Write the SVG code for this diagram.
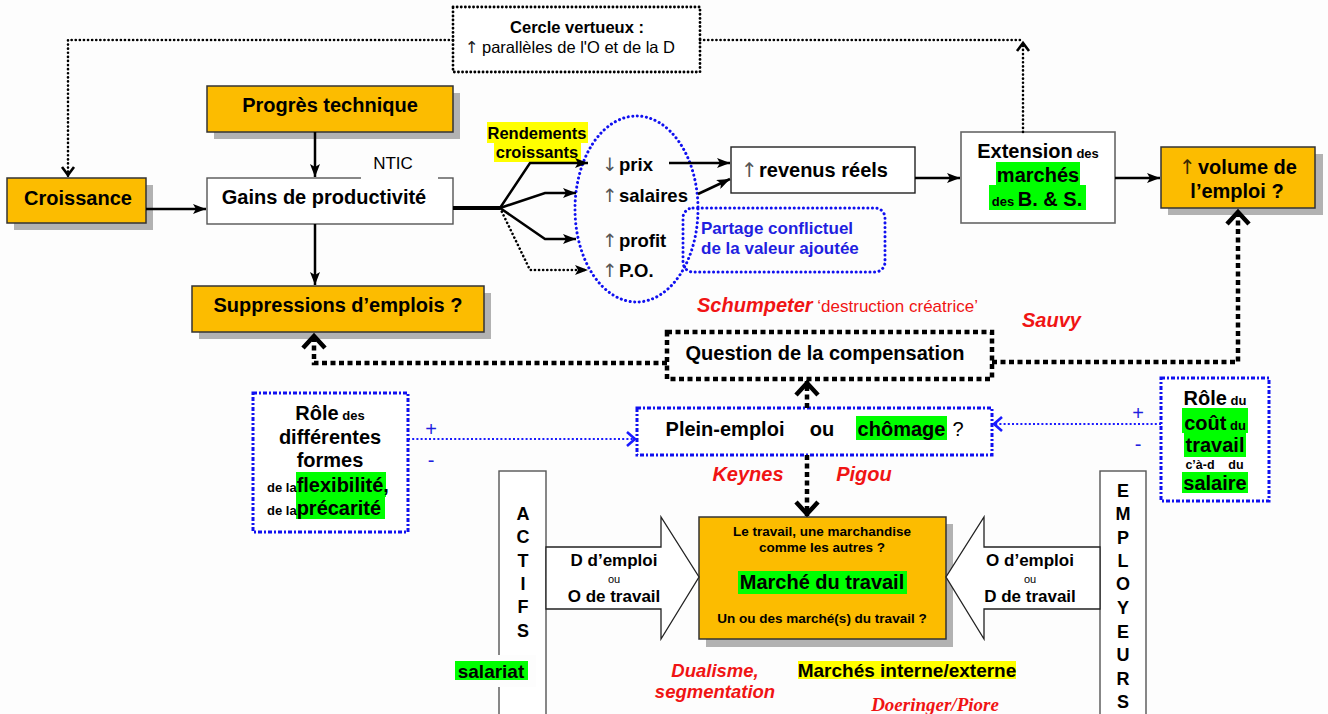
<svg xmlns="http://www.w3.org/2000/svg" width="1328" height="714" viewBox="0 0 1328 714">
<style>
text { font-family: "Liberation Sans", Arial, Helvetica, sans-serif; fill: #000; }
.b { font-weight: bold; }
.c { text-anchor: middle; }
.f20 { font-size: 20px; }
.red { fill: #f01414; font-weight: bold; font-style: italic; }
.blue { fill: #1f1fe0; }
.orange { fill: #fcbc00; stroke: #333; stroke-width: 1.5; }
.shadow { fill: #b2b2b2; }
.white { fill: #fff; stroke: #555; stroke-width: 1.4; }
.hg { fill: #00ff00; }
.hy { fill: #ffff00; }
.ar { fill: #555; font-weight: normal; font-family: "DejaVu Sans", "Noto Sans", sans-serif; }
.solid { fill: none; stroke: #000; stroke-width: 2.5; }
.dot { fill: none; stroke: #000; stroke-width: 2.6; stroke-dasharray: 0.1 4; stroke-linecap: round; }
.dash { fill: none; stroke: #000; stroke-width: 4.5; stroke-dasharray: 5 3.5; }
.bdot { fill: none; stroke: #1a1aff; stroke-width: 2.2; stroke-dasharray: 2 2.2; }
.bbox { fill: #fff; stroke: #1010f0; stroke-width: 3; stroke-dasharray: 4 2 2 2; }
.bround { fill: none; stroke: #1010f0; stroke-width: 3; stroke-dasharray: 0.1 4.5; stroke-linecap: round; }
</style>
<defs>
<marker id="stealth" markerUnits="userSpaceOnUse" markerWidth="13" markerHeight="10" viewBox="0 0 13 10" refX="13" refY="5" orient="auto"><path d="M0,0 L13,5 L0,10 L3,5 z" fill="#000"/></marker>
<marker id="chev" markerUnits="userSpaceOnUse" markerWidth="22" markerHeight="26" viewBox="0 0 22 26" refX="17" refY="13" orient="auto"><path d="M3,2 L15,13 L3,24" fill="none" stroke="#000" stroke-width="4.5"/></marker>
<marker id="chevs" markerUnits="userSpaceOnUse" markerWidth="14" markerHeight="16" viewBox="0 0 14 16" refX="11" refY="8" orient="auto"><path d="M2,2 L10,8 L2,14" fill="none" stroke="#000" stroke-width="2.6"/></marker>
<marker id="chevb" markerUnits="userSpaceOnUse" markerWidth="14" markerHeight="18" viewBox="0 0 14 18" refX="11" refY="9" orient="auto"><path d="M2,2 L10,9 L2,16" fill="none" stroke="#1a1aff" stroke-width="2.6"/></marker>
</defs>
<rect width="1328" height="714" fill="#fdfdfd"/>

<g id="croissance">
<rect class="shadow" x="14" y="185" width="139" height="45"/>
<rect class="orange" x="7" y="178" width="139" height="45"/>
<text class="b c f20" x="78" y="205">Croissance</text>
</g>

<g id="progres">
<rect class="shadow" x="214" y="93" width="246" height="46"/>
<rect class="orange" x="207" y="86" width="246" height="46"/>
<text class="b c f20" x="330" y="112">Progrès technique</text>
</g>

<g id="gains">
<rect class="white" x="207" y="178" width="246" height="46"/>
<rect x="361" y="150" width="77" height="30" fill="#fdfdfd"/>
<text x="393" y="169" class="c" font-size="17">NTIC</text>
<text class="b c f20" x="324" y="204">Gains de productivité</text>
</g>

<g id="suppressions">
<rect class="shadow" x="199" y="293" width="292" height="46"/>
<rect class="orange" x="192" y="286" width="292" height="46"/>
<text class="b c f20" x="338" y="312">Suppressions d’emplois ?</text>
</g>

<g id="cercle">
<rect x="453" y="7" width="247" height="65" fill="#fff" stroke="#000" stroke-width="2.8" stroke-dasharray="0.1 4" stroke-linecap="round"/>
<text class="b c" x="577" y="33" font-size="16.5">Cercle vertueux :</text>
<text y="53" font-size="16.5"><tspan class="ar" x="465" fill="#222" style="fill:#222">↑</tspan><tspan x="482">parallèles de l'O et de la D</tspan></text>
</g>

<g id="rendements">
<rect class="hy" x="487" y="122" width="101" height="21"/>
<rect class="hy" x="494" y="143" width="87" height="19"/>
<text class="b c" x="537" y="139" font-size="16.5">Rendements</text>
<text class="b c" x="537" y="158" font-size="16.5">croissants</text>
</g>

<g id="partage">
<ellipse class="bround" cx="636.5" cy="209" rx="61.5" ry="93"/>
<rect class="bround" x="683" y="208" width="202" height="64" rx="10"/>
<text class="b blue" x="701" y="234" font-size="17">Partage conflictuel</text>
<text class="b blue" x="701" y="254" font-size="17">de la valeur ajoutée</text>
</g>

<g id="repartition">
<text class="b" y="171" font-size="18.5"><tspan class="ar" x="602">↓</tspan><tspan x="619">prix</tspan></text>
<text class="b" y="202" font-size="18.5"><tspan class="ar" x="602">↑</tspan><tspan x="619">salaires</tspan></text>
<text class="b" y="247" font-size="18.5"><tspan class="ar" x="602">↑</tspan><tspan x="619">profit</tspan></text>
<text class="b" y="277" font-size="18.5"><tspan class="ar" x="602">↑</tspan><tspan x="619">P.O.</tspan></text>
</g>

<g id="revenus">
<rect x="731" y="147" width="184" height="46" fill="#fff" stroke="#222" stroke-width="1.4"/>
<text class="b f20" y="177"><tspan class="ar" x="741">↑</tspan><tspan x="759">revenus réels</tspan></text>
</g>

<g id="extension">
<rect x="961" y="132" width="154" height="91" fill="#fff" stroke="#666" stroke-width="1.6"/>
<rect class="hg" x="996" y="162" width="84" height="23"/>
<rect class="hg" x="989" y="185" width="97" height="25"/>
<text class="b c" x="1038" y="158"><tspan font-size="20">Extension</tspan><tspan font-size="13"> des</tspan></text>
<text class="b c f20" x="1038" y="182">marchés</text>
<text class="b c" x="1037" y="206"><tspan font-size="13">des </tspan><tspan font-size="20">B. &amp; S.</tspan></text>
</g>

<g id="volume">
<rect class="shadow" x="1168" y="154" width="155" height="61"/>
<rect class="orange" x="1161" y="147" width="154" height="61"/>
<text class="b f20" y="174"><tspan class="ar" x="1179" style="fill:#3a2a00">↑</tspan><tspan x="1198">volume de</tspan></text>
<text class="b c f20" x="1237" y="198">l’emploi ?</text>
</g>

<g id="question">
<rect x="667" y="332" width="325" height="47" fill="#fff" class="dash"/>
<text class="b c f20" x="825" y="360">Question de la compensation</text>
</g>

<g id="plein-emploi">
<rect class="bbox" x="637" y="408" width="355" height="47"/>
<rect class="hg" x="856" y="416" width="91" height="24"/>
<text class="b f20" y="436"><tspan x="725" text-anchor="middle">Plein-emploi</tspan><tspan x="822" text-anchor="middle">ou</tspan><tspan x="901.5" text-anchor="middle">chômage</tspan><tspan x="958" text-anchor="middle" font-weight="normal">?</tspan></text>
</g>

<g id="role-flexibilite">
<rect class="bbox" x="253" y="393" width="155" height="139"/>
<rect class="hg" x="296" y="472" width="90" height="25"/>
<rect class="hg" x="296" y="497" width="89" height="22"/>
<text class="b c" x="330" y="420"><tspan font-size="20">Rôle</tspan><tspan font-size="13"> des</tspan></text>
<text class="b c f20" x="330" y="444">différentes</text>
<text class="b c f20" x="330" y="467">formes</text>
<text class="b" x="267" y="492"><tspan font-size="13">de la</tspan><tspan font-size="20">flexibilité,</tspan></text>
<text class="b" x="267" y="515"><tspan font-size="13">de la</tspan><tspan font-size="20">précarité</tspan></text>
</g>

<g id="role-cout">
<rect class="bbox" x="1161" y="378" width="108" height="123"/>
<rect class="hg" x="1182" y="408" width="66" height="25"/>
<rect class="hg" x="1184" y="433" width="62" height="24"/>
<rect class="hg" x="1182" y="472" width="66" height="21"/>
<text class="b c" x="1215" y="405"><tspan font-size="20">Rôle</tspan><tspan font-size="13"> du</tspan></text>
<text class="b c" x="1215" y="430"><tspan font-size="20">coût</tspan><tspan font-size="13"> du</tspan></text>
<text class="b c f20" x="1215" y="452">travail</text>
<text class="b c" y="469" font-size="12.5"><tspan x="1200">c’à-d</tspan><tspan x="1236">du</tspan></text>
<text class="b c f20" x="1215" y="490">salaire</text>
</g>

<g id="marche">
<rect class="shadow" x="706" y="524" width="247" height="123"/>
<rect class="orange" x="699" y="517" width="247" height="122"/>
<rect class="hg" x="738" y="571" width="169" height="23"/>
<text class="b c" x="822" y="536" font-size="13.5">Le travail, une marchandise</text>
<text class="b c" x="822" y="552" font-size="13.5">comme les autres ?</text>
<text class="b c f20" x="822" y="589">Marché du travail</text>
<text class="b c" x="822" y="623" font-size="13.5">Un ou des marché(s) du travail ?</text>
</g>

<g id="actifs">
<rect class="white" x="499" y="471" width="47" height="260"/>
<text class="b c" font-size="18"><tspan x="523" y="520">A</tspan><tspan x="523" y="543">C</tspan><tspan x="523" y="567">T</tspan><tspan x="523" y="590">I</tspan><tspan x="523" y="613">F</tspan><tspan x="523" y="637">S</tspan></text>
<polygon points="546,547 661,547 661,517 699,577 661,639 661,609 546,609" fill="#fff" stroke="#222" stroke-width="1.3"/>
<text class="b c" x="614" y="566" font-size="17">D d’emploi</text>
<text class="c" x="614" y="583" font-size="11">ou</text>
<text class="b c" x="614" y="602" font-size="17">O de travail</text>
</g>

<g id="employeurs">
<rect class="white" x="1100" y="471" width="46" height="260"/>
<text class="b c" font-size="18"><tspan x="1123" y="497">E</tspan><tspan x="1123" y="520">M</tspan><tspan x="1123" y="544">P</tspan><tspan x="1123" y="567">L</tspan><tspan x="1123" y="590">O</tspan><tspan x="1123" y="614">Y</tspan><tspan x="1123" y="638">E</tspan><tspan x="1123" y="661">U</tspan><tspan x="1123" y="685">R</tspan><tspan x="1123" y="708">S</tspan></text>
<polygon points="1100,547 984,547 984,517 946,577 984,639 984,609 1100,609" fill="#fff" stroke="#222" stroke-width="1.3"/>
<text class="b c" x="1030" y="566" font-size="17">O d’emploi</text>
<text class="c" x="1030" y="583" font-size="11">ou</text>
<text class="b c" x="1030" y="602" font-size="17">D de travail</text>
</g>

<g id="connectors">
<path class="dot" d="M453,40 H68 V176" marker-end="url(#chevs)"/>
<path class="dot" d="M700,40 H1023"/>
<path class="dot" d="M1023,132 V42" marker-end="url(#chevs)"/>
<path class="solid" d="M146,209 H206" marker-end="url(#stealth)"/>
<path class="solid" d="M315,132 V177" marker-end="url(#stealth)"/>
<path class="solid" d="M315,224 V285" marker-end="url(#stealth)"/>
<path fill="none" stroke="#000" stroke-width="4" d="M453,208 H500"/>
<path class="solid" d="M500,208 L530,163 H588" marker-end="url(#stealth)"/>
<path class="solid" d="M500,208 L545,193 H576" marker-end="url(#stealth)"/>
<path class="solid" d="M500,208 L545,239 H576" marker-end="url(#stealth)"/>
<path class="dot" d="M500,208 L530,270 H588" marker-end="url(#stealth)"/>
<path class="solid" d="M669,163 H730" marker-end="url(#stealth)"/>
<path class="solid" d="M698,194 L730,179" marker-end="url(#stealth)"/>
<path class="solid" d="M915,178 H960" marker-end="url(#stealth)"/>
<path class="solid" d="M1115,178 H1160" marker-end="url(#stealth)"/>
<path class="dash" d="M667,363 H314 V334" marker-end="url(#chev)"/>
<path class="dash" d="M992,362 H1238 V210" marker-end="url(#chev)"/>
<path class="dash" d="M807,408 V381" marker-end="url(#chev)"/>
<path class="dash" d="M807,455 V516" marker-end="url(#chev)"/>
<path class="bdot" d="M408,439 H636" marker-end="url(#chevb)"/>
<path class="bdot" d="M1161,424 H993" marker-end="url(#chevb)"/>
</g>

<g id="labels">
<text y="312"><tspan x="697" class="red" font-size="20">Schumpeter</tspan><tspan fill="#f01414" font-size="17"> ‘destruction créatrice’</tspan></text>
<text class="red" x="1022" y="327" font-size="20">Sauvy</text>
<text class="red c" x="748" y="481" font-size="20">Keynes</text>
<text class="red c" x="864" y="481" font-size="20">Pigou</text>
<text class="blue c" x="431" y="436" font-size="20">+</text>
<text class="blue c" x="431" y="467" font-size="20">-</text>
<text class="blue c" x="1138" y="420" font-size="20">+</text>
<text class="blue c" x="1138" y="451" font-size="20">-</text>
<rect x="450" y="655" width="86" height="32" fill="#fdfdfd"/>
<rect class="hg" x="455" y="661" width="73" height="19"/>
<text class="b c" x="491" y="678" font-size="19">salariat</text>
<text class="red c" x="715" y="677" font-size="18.5">Dualisme,</text>
<text class="red c" x="715" y="698" font-size="18.5">segmentation</text>
<rect class="hy" x="798" y="661" width="218" height="18"/>
<text class="b c" x="907" y="677" font-size="19">Marchés interne/externe</text>
<text x="935" y="711" font-size="19" text-anchor="middle" style="font-family: 'Liberation Serif', 'Times New Roman', serif; font-weight: bold; font-style: italic; fill: #f01414;">Doeringer/Piore</text>
</g>
</svg>
